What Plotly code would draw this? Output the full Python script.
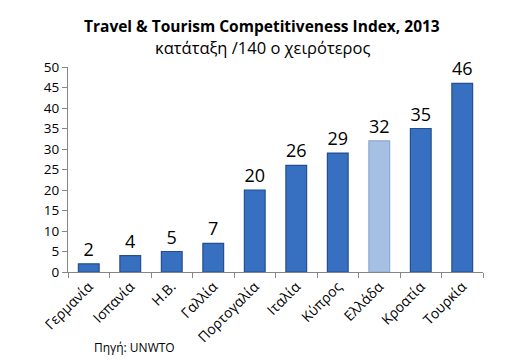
import plotly.graph_objects as go

countries = ["Γερμανία", "Ισπανία", "Η.Β.", "Γαλλία", "Πορτογαλία", "Ιταλία", "Κύπρος", "Ελλάδα", "Κροατία", "Τουρκία"]
ranks = [2, 4, 5, 7, 20, 26, 29, 32, 35, 46]
y_ticks = [0, 5, 10, 15, 20, 25, 30, 35, 40, 45, 50]

dark = "#3770C0"
light = "#A6C0E4"
colors = [light if c == "Ελλάδα" else dark for c in countries]
edges = ["#8FA9CF" if c == "Ελλάδα" else "#234F8E" for c in countries]

FONT = "Open Sans"
OFF = 8  # browser body margin offset

W, H = 529 - OFF, 362 - OFF
L, T, R, B = 68 - OFF, 67 - OFF, 46, 90

fig = go.Figure(go.Bar(
    x=countries, y=ranks,
    marker=dict(color=colors, line=dict(color=edges, width=1.2)),
    text=[str(v) for v in ranks], textposition="outside",
    textfont=dict(family=FONT, size=18, color="#000000"),
    cliponaxis=False, width=0.5,
))

pw, ph = W - L - R, H - T - B
base = 272  # pixel y of zero in reference


def px(x):
    return (x - 68) / pw


def py(y):
    return (base - y) / ph


fig.update_layout(
    width=W, height=H,
    margin=dict(l=L, r=R, t=T, b=B),
    paper_bgcolor="white", plot_bgcolor="white",
    showlegend=False,
    font=dict(family=FONT, color="#000000"),
    annotations=[
        dict(text="<b>Travel & Tourism Competitiveness Index, 2013</b>", x=px(262), y=py(26),
             xref="paper", yref="paper", showarrow=False, yanchor="middle",
             font=dict(size=15.5, family=FONT)),
        dict(text="κατάταξη /140 ο χειρότερος", x=px(262), y=py(48), xref="paper", yref="paper",
             showarrow=False, yanchor="middle", font=dict(size=16.5, family=FONT)),
        dict(text="Πηγή: UNWTO", x=px(92), y=py(347), xref="paper", yref="paper",
             showarrow=False, font=dict(size=12, family=FONT),
             xanchor="left", yanchor="middle"),
    ],
)

fig.update_xaxes(
    showline=True, linecolor="#868686", linewidth=1,
    ticks="outside", tickson="boundaries", ticklen=5, tickcolor="#868686",
    tickangle=-45, tickfont=dict(size=14, family=FONT), showgrid=False,
)
fig.update_yaxes(
    range=[0, 50], tickvals=y_ticks, showline=True, linecolor="#868686", linewidth=1,
    ticks="outside", ticklen=5, tickcolor="#868686", showgrid=False, zeroline=False,
    tickfont=dict(size=13.5, family=FONT),
)

fig.write_html("out.html")
